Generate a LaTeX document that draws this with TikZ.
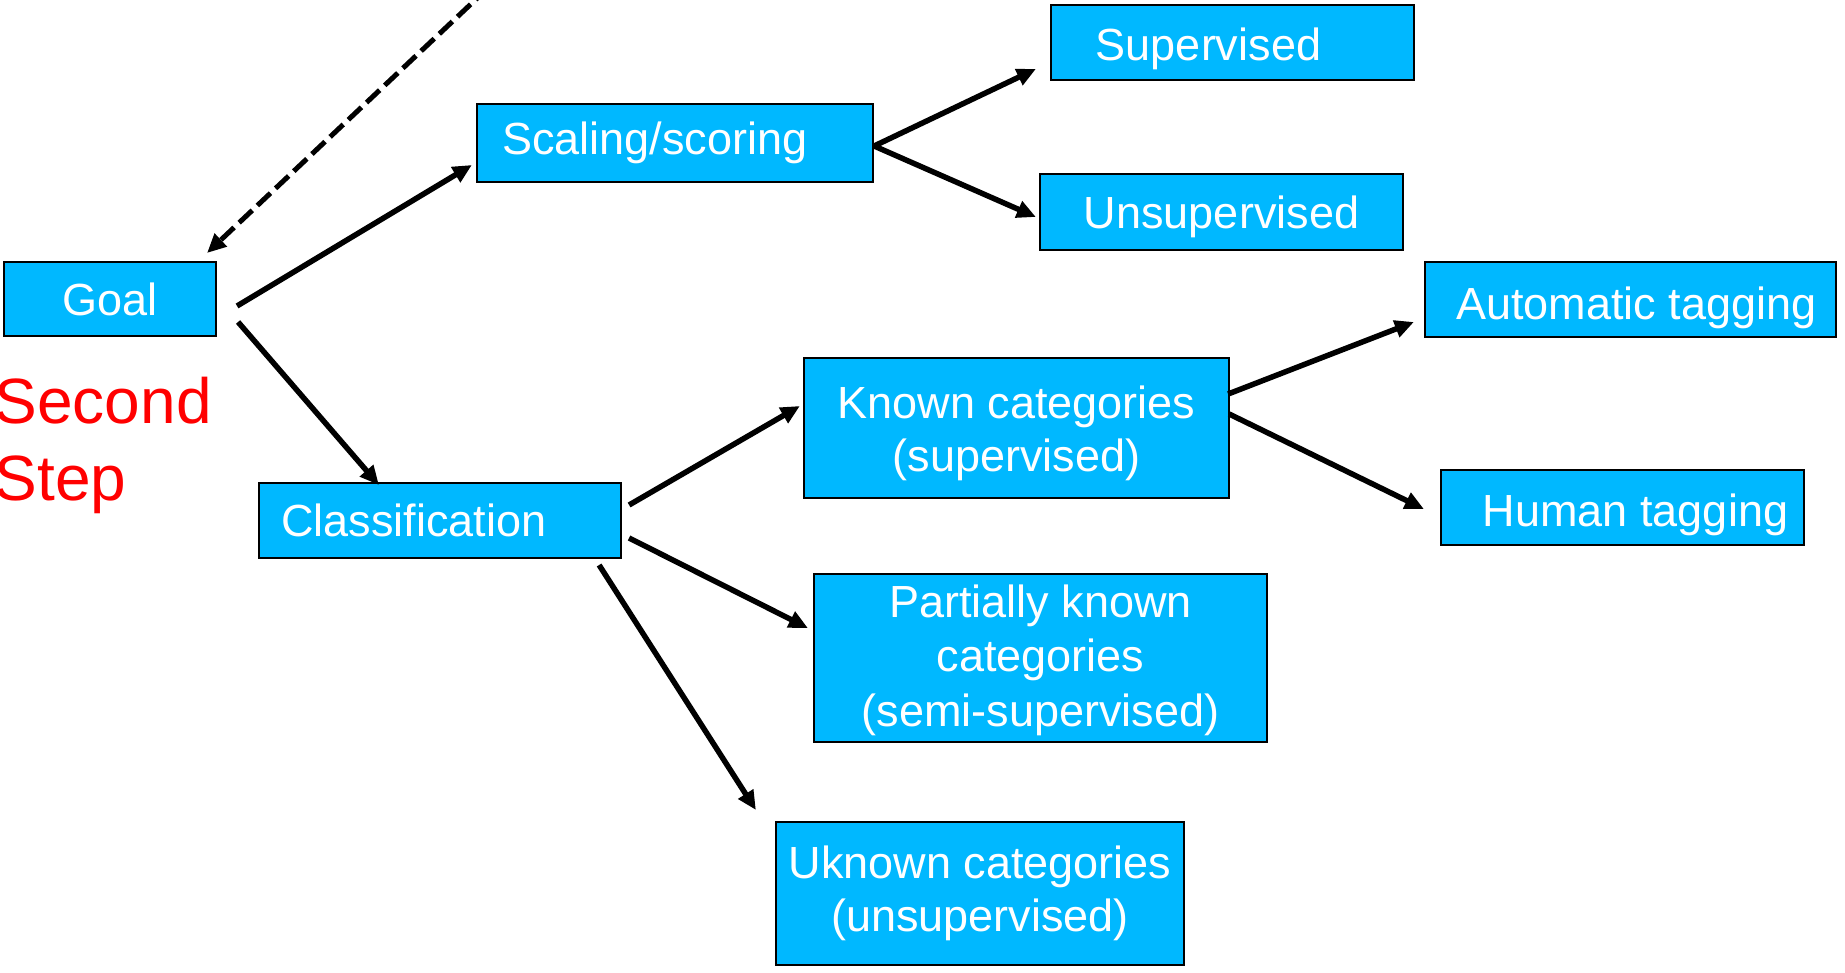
\documentclass[tikz,border=0pt]{standalone}
\usepackage{fontspec}
\setmainfont{Liberation Sans}
\usepackage{xcolor}
\usetikzlibrary{arrows.meta}
\definecolor{boxblue}{RGB}{0,184,255}
\definecolor{stepred}{RGB}{255,0,0}

\begin{document}
\begin{tikzpicture}[x=0.01cm, y=-0.01cm,
  tbox/.style={draw=black, line width=0.02cm, fill=boxblue, text=white, inner sep=0pt,
    align=center, font=\fontsize{12.8}{15.1}\selectfont},
  arr/.style={-{Triangle[length=0.19cm,width=0.17cm]}, line width=0.055cm}]
\useasboundingbox (0,0) rectangle (1845,973);
\clip (0,0) rectangle (1845,973);

\node[tbox, minimum width=2.12cm, minimum height=0.74cm] (goal) at (110,299) {Goal};
\node[tbox, minimum width=3.96cm, minimum height=0.78cm] (scal) at (675,143) {Scaling/scoring\hspace{0.4cm}};
\node[tbox, minimum width=3.63cm, minimum height=0.75cm] (sup) at (1232.5,42.5) {\rule{0pt}{0.45cm}Supervised\hspace{0.48cm}};
\node[tbox, minimum width=3.63cm, minimum height=0.76cm] (unsup) at (1221.5,212) {\rule{0pt}{0.43cm}Unsupervised};
\node[tbox, minimum width=3.62cm, minimum height=0.75cm] (class) at (440,520.5) {Classification\hspace{0.52cm}};
\node[tbox, minimum width=4.25cm, minimum height=1.40cm] (known) at (1016.5,428) {\rule{0pt}{0.43cm}Known categories\\(supervised)};
\node[tbox, minimum width=4.53cm, minimum height=1.68cm, font=\fontsize{12.8}{15.4}\selectfont] (part) at (1040.5,658) {\rule{0pt}{0.37cm}Partially known\\categories\\(semi-supervised)};
\node[tbox, minimum width=4.08cm, minimum height=1.43cm] (unk) at (980,893.5) {Uknown categories\\(unsupervised)};
\node[tbox, minimum width=4.11cm, minimum height=0.75cm] (auto) at (1630.5,299.5) {\rule{0pt}{0.49cm}\hspace{0.12cm}Automatic tagging};
\node[tbox, minimum width=3.63cm, minimum height=0.75cm] (human) at (1622.5,507.5) {\rule{0pt}{0.47cm}\hspace{0.26cm}Human tagging};

\node[anchor=north west, inner sep=0pt, align=left, text=stepred,
  font=\fontsize{18.2}{22.1}\selectfont] (step2) at (-6,376) {Second\\Step};

% arrow coming from outside the frame
\coordinate (prev) at (507,-30);
\draw[arr, dash pattern=on 0.18cm off 0.07cm, line width=0.05cm] (prev) -- ([shift={(-10,-8)}]goal.north east);

\draw[arr] ([shift={(20,7)}]goal.east) -- ([shift={(-4,22)}]scal.west);
\draw[arr] ([shift={(21,23)}]goal.east) -- ([shift={(121,3)}]class.north west);
\draw[arr] ([shift={(0,3)}]scal.east) -- ([shift={(-14,26.5)}]sup.west);
\draw[arr] ([shift={(0,3)}]scal.east) -- ([shift={(-3,5)}]unsup.west);
\draw[arr] ([shift={(7,-15.5)}]class.east) -- ([shift={(-3,-22)}]known.west);
\draw[arr] ([shift={(7,17.5)}]class.east) -- ([shift={(-5,-30)}]part.west);
\draw[arr] ([shift={(-23,6)}]class.south east) -- ([shift={(-19,-11)}]unk.north west);
\draw[arr] ([shift={(-2,-34)}]known.east) -- ([shift={(-10,22.5)}]auto.west);
\draw[arr] ([shift={(-1,-14)}]known.east) -- ([shift={(-16,1.5)}]human.west);
\end{tikzpicture}
\end{document}
